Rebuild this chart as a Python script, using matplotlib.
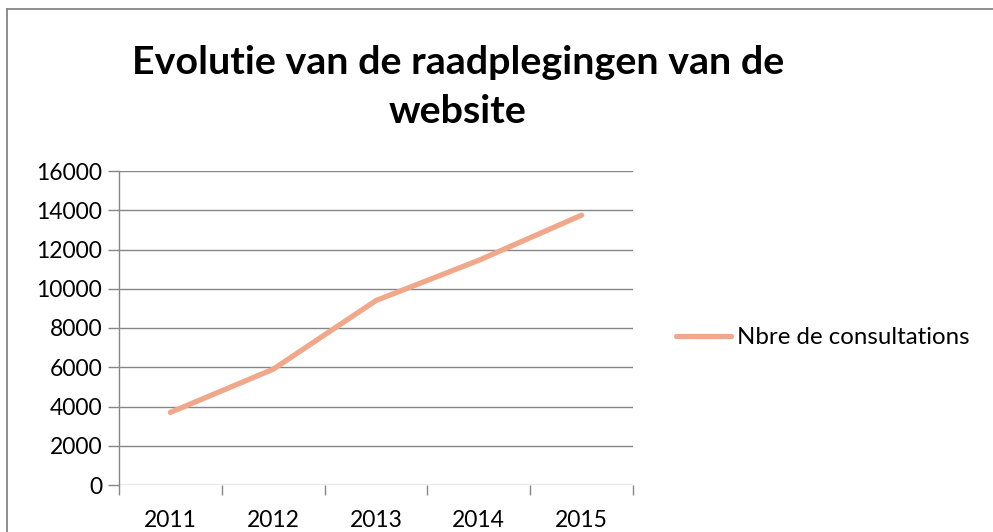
import matplotlib
matplotlib.use("Agg")
import matplotlib.pyplot as plt
from matplotlib.lines import Line2D

years = ["2011", "2012", "2013", "2014", "2015"]
consultations = [3700, 5900, 9400, 11450, 13750]
series_name = "Nbre de consultations"
title = "Evolutie van de raadplegingen van de\nwebsite"
yticks = [0, 2000, 4000, 6000, 8000, 10000, 12000, 14000, 16000]

plt.rcParams['font.family'] = ['Lato', 'DejaVu Sans']

W, H = 993, 532
fig = plt.figure(figsize=(W/100, H/100), dpi=100)
fig.patch.set_facecolor("white")

# outer chart border (top and left visible)
fig.add_artist(Line2D([7/W, 1], [1-9/H, 1-9/H], color="#868686", lw=1.3, transform=fig.transFigure))
fig.add_artist(Line2D([7/W, 7/W], [0, 1-9/H], color="#868686", lw=1.3, transform=fig.transFigure))

ax = fig.add_axes([119/W, 1-485/H, (633-119)/W, (485-171)/H])
x = list(range(len(years)))
line, = ax.plot(x, consultations, color="#F1A78A", lw=3.8, solid_capstyle="round",
                solid_joinstyle="round", label=series_name)

ax.set_xlim(-0.5, len(years)-0.5)
ax.set_ylim(0, 16000)
ax.set_yticks(yticks)
ax.set_yticklabels([str(v) for v in yticks], fontsize=16.5)
for v in yticks:
    ax.axhline(v, color="#868686", lw=1.0, zorder=0)

ax.set_xticks([i-0.5 for i in range(len(years)+1)])
ax.set_xticklabels([])
ax.set_xticks(x, minor=True)
ax.set_xticklabels(years, minor=True, fontsize=16.5)
ax.tick_params(axis="x", which="minor", length=0, pad=18)
ax.tick_params(axis="x", which="major", length=7, color="#868686", width=1.0, direction="out")
ax.tick_params(axis="y", length=8, color="#868686", width=1.0, direction="out", pad=4)

for s in ["top", "right"]:
    ax.spines[s].set_visible(False)
ax.spines["bottom"].set_visible(False)
ax.spines["left"].set_color("#868686")
ax.spines["left"].set_linewidth(1.0)

fig.text(458/W, 1-87/H, title, ha="center", va="center", fontsize=28.4,
         fontweight="bold", linespacing=1.5)

leg = fig.legend(handles=[line], loc="center left", bbox_to_anchor=(676/W, 1-338/H),
                 frameon=False, fontsize=17.3, handlelength=2.3, handletextpad=0.25,
                 borderaxespad=0, borderpad=0)

fig.savefig("out.png", dpi=100)
